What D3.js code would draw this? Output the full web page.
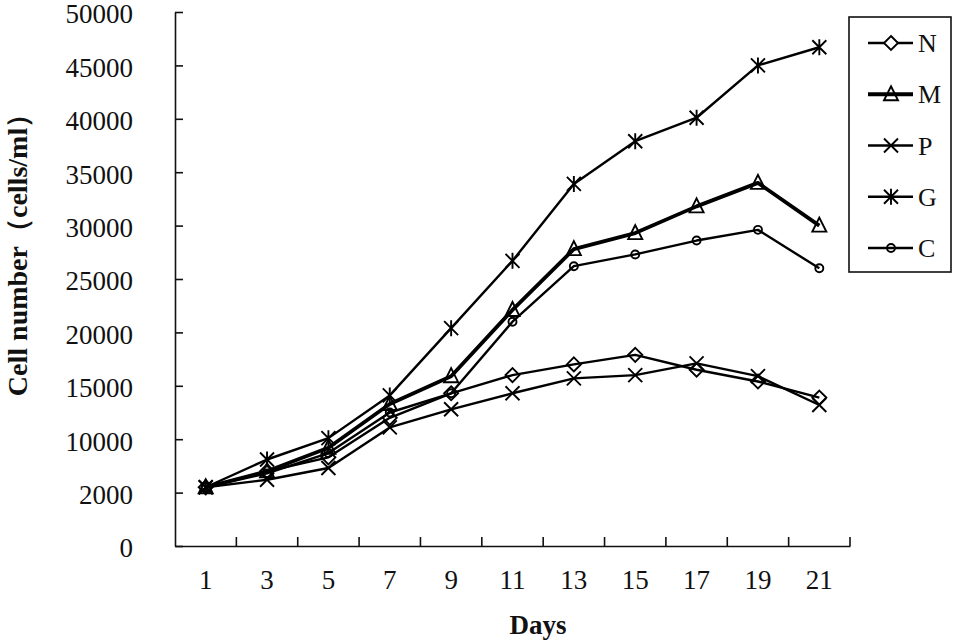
<!DOCTYPE html>
<html lang="en">
<head>
    <meta charset="UTF-8">
    <title>Cell number over days</title>
    <script src="https://d3js.org/d3.v7.min.js"></script>
    <style>
        body { margin: 0; background: #fff; }
        svg { display: block; }
    </style>
</head>
<body>
<script>
    // data
    var days = [1, 3, 5, 7, 9, 11, 13, 15, 17, 19, 21];
    var seriesNames = ['N', 'M', 'P', 'G', 'C'];
    var valuesN = [5500, 7000, 8300, 12000, 14300, 16000, 17000, 17900, 16500, 15400, 13900];
    var valuesM = [5500, 7000, 9200, 13300, 15900, 22100, 27800, 29300, 31800, 34000, 30000];
    var valuesP = [5500, 6200, 7300, 11100, 12800, 14300, 15700, 16000, 17100, 15900, 13200];
    var valuesG = [5500, 8100, 10100, 14100, 20400, 26700, 33900, 37900, 40100, 45000, 46700];
    var valuesC = [5500, 6800, 8700, 12500, 14300, 21000, 26200, 27300, 28600, 29600, 26000];
    var yTicks = [0, 5000, 10000, 15000, 20000, 25000, 30000, 35000, 40000, 45000, 50000];
    var yTickLabels = ['0', '2000', '10000', '15000', '20000', '25000', '30000', '35000', '40000', '45000', '50000'];

    var w = 956, h = 643;
    var plotLeft = 175, plotRight = 850, plotTop = 12, plotBottom = 546;

    var series = [
        {name: 'N', values: valuesN, marker: 'diamond', width: 2.4},
        {name: 'M', values: valuesM, marker: 'triangle', width: 3.8},
        {name: 'P', values: valuesP, marker: 'times', width: 2.4},
        {name: 'G', values: valuesG, marker: 'asterisk', width: 2.4},
        {name: 'C', values: valuesC, marker: 'circle', width: 2.4}
    ];

    var svg = d3.select('body')
                .append('svg')
                .attr('width', w)
                .attr('height', h);

    svg.append('rect').attr('width', w).attr('height', h).attr('fill', '#fff');

    var xScale = d3.scaleBand()
                   .domain(days)
                   .range([plotLeft, plotRight]);

    var yScale = d3.scaleLinear()
                   .domain([0, 50000])
                   .range([plotBottom, plotTop]);

    var cx = function (d) { return xScale(d) + xScale.bandwidth() / 2; };

    // marker paths
    function markerPath(type) {
        var s = 7;
        if (type == 'diamond') return 'M0,' + (-s) + 'L' + s + ',0L0,' + s + 'L' + (-s) + ',0Z';
        if (type == 'triangle') return 'M0,' + (-s - 1) + 'L' + s + ',' + (s - 1) + 'L' + (-s) + ',' + (s - 1) + 'Z';
        if (type == 'times') return 'M' + (-s) + ',' + (-s) + 'L' + s + ',' + s + 'M' + (-s) + ',' + s + 'L' + s + ',' + (-s);
        if (type == 'asterisk') return 'M' + (-s) + ',' + (-s) + 'L' + s + ',' + s + 'M' + (-s) + ',' + s + 'L' + s + ',' + (-s) + 'M0,' + (-s - 1) + 'L0,' + (s + 1);
        var r = 4;
        return 'M' + r + ',0A' + r + ',' + r + ' 0 1,1 ' + (-r) + ',0A' + r + ',' + r + ' 0 1,1 ' + r + ',0Z';
    }

    // y axis
    var yAxis = d3.axisLeft(yScale)
                  .tickValues(yTicks)
                  .tickFormat(function (d, i) { return yTickLabels[i]; })
                  .tickSize(-8)
                  .tickSizeOuter(0)
                  .tickPadding(42);

    var gy = svg.append('g')
       .attr('transform', 'translate(' + plotLeft + ',0)')
       .call(yAxis);
    gy.selectAll('text')
      .attr('dy', '0.4em')
      .attr('font-family', '"Liberation Serif", serif')
      .attr('font-size', 27)
      .attr('fill', '#111');
    gy.selectAll('line, path').attr('stroke', '#111').attr('stroke-width', 1.6);

    // x axis
    var xAxis = d3.axisBottom(xScale)
                  .tickSize(0)
                  .tickSizeOuter(0)
                  .tickPadding(24);

    var gx = svg.append('g')
       .attr('transform', 'translate(0,' + plotBottom + ')')
       .call(xAxis);
    gx.selectAll('text')
      .attr('font-family', '"Liberation Serif", serif')
      .attr('font-size', 27)
      .attr('fill', '#111');
    gx.selectAll('path').attr('stroke', '#111').attr('stroke-width', 1.6);

    // ticks between categories
    svg.append('g')
       .selectAll('line')
       .data(days)
       .enter()
       .append('line')
       .attr('x1', function (d) { return xScale(d) + xScale.bandwidth(); })
       .attr('x2', function (d) { return xScale(d) + xScale.bandwidth(); })
       .attr('y1', plotBottom)
       .attr('y2', plotBottom - 9)
       .attr('stroke', '#111')
       .attr('stroke-width', 1.6);

    // lines and markers
    var line = d3.line()
                 .x(function (d, i) { return cx(days[i]); })
                 .y(function (d) { return yScale(d); });

    series.forEach(function (s) {
        svg.append('path')
           .datum(s.values)
           .attr('d', line)
           .attr('fill', 'none')
           .attr('stroke', '#000')
           .attr('stroke-width', s.width)
           .attr('stroke-linejoin', 'round');

        svg.append('g')
           .selectAll('path')
           .data(s.values)
           .enter()
           .append('path')
           .attr('d', markerPath(s.marker))
           .attr('transform', function (d, i) { return 'translate(' + cx(days[i]) + ',' + yScale(d) + ')'; })
           .attr('fill', 'none')
           .attr('stroke', '#000')
           .attr('stroke-width', 1.9);
    });

    // axis titles
    svg.append('text')
       .attr('transform', 'translate(27,' + 248 + ') rotate(-90)')
       .attr('text-anchor', 'middle')
       .attr('font-family', '"Liberation Serif", serif')
       .attr('font-weight', 'bold')
       .attr('font-size', 28)
       .attr('fill', '#111')
       .text('Cell number（cells/ml）');

    svg.append('text')
       .attr('x', 538)
       .attr('y', 634)
       .attr('text-anchor', 'middle')
       .attr('font-family', '"Liberation Serif", serif')
       .attr('font-weight', 'bold')
       .attr('font-size', 27)
       .attr('fill', '#111')
       .text('Days');

    // legend
    var legend = svg.append('g');
    legend.append('rect')
          .attr('x', 849).attr('y', 17)
          .attr('width', 102).attr('height', 255)
          .attr('fill', '#fff')
          .attr('stroke', '#111')
          .attr('stroke-width', 1.6);

    var legendY = d3.scalePoint().domain(seriesNames).range([43, 248]);

    var items = legend.selectAll('g.item')
                      .data(series)
                      .enter()
                      .append('g')
                      .attr('class', 'item')
                      .attr('transform', function (d) { return 'translate(0,' + legendY(d.name) + ')'; });

    items.append('line')
         .attr('x1', 868).attr('x2', 913)
         .attr('stroke', '#000')
         .attr('stroke-width', function (d) { return d.width; });

    items.append('path')
         .attr('d', function (d) { return markerPath(d.marker); })
         .attr('transform', 'translate(891,0)')
         .attr('fill', function (d) { return d.marker == 'diamond' ? '#fff' : 'none'; })
         .attr('stroke', '#000')
         .attr('stroke-width', 1.9);

    items.append('text')
         .attr('x', 918)
         .attr('y', 9)
         .attr('font-family', '"Liberation Serif", serif')
         .attr('font-size', 26)
         .attr('fill', '#111')
         .text(function (d) { return d.name; });
</script>
</body>
</html>
